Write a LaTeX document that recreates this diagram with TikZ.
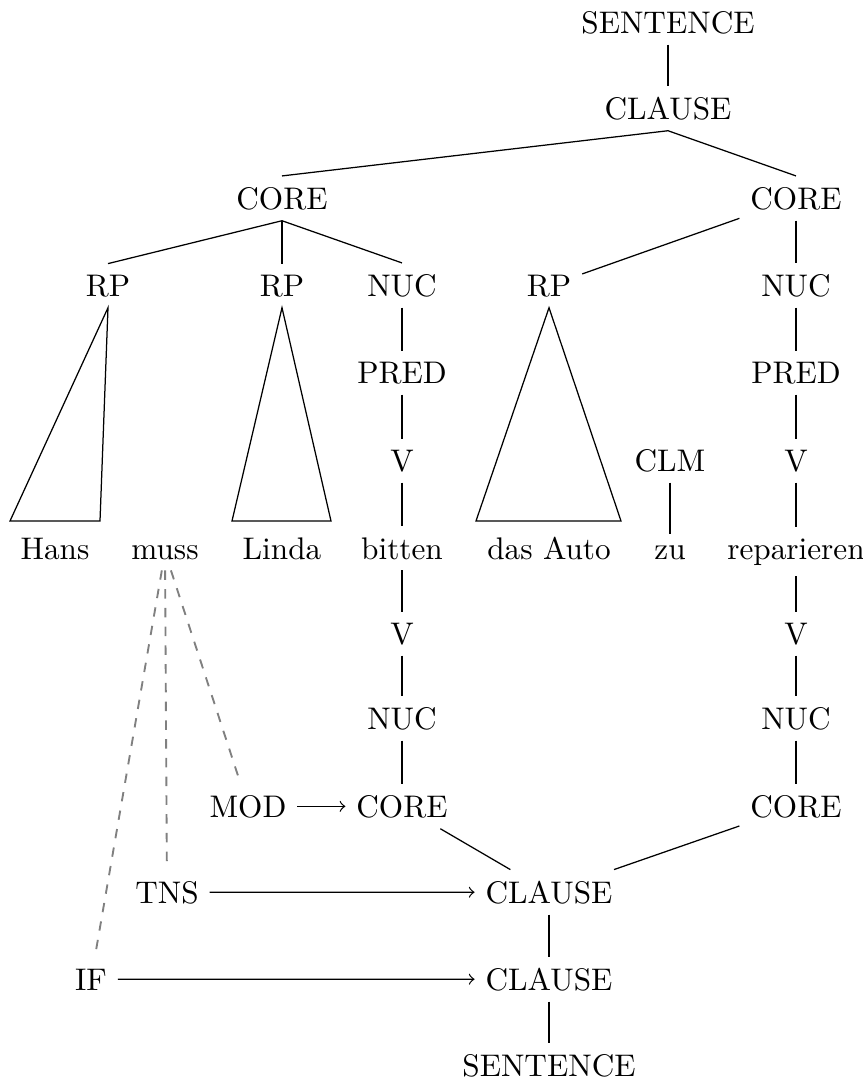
\documentclass[tikz,border=0pt]{standalone}
\usetikzlibrary{calc}
\begin{document}
\begin{tikzpicture}[x=0.32pt,y=-0.32pt,
  lbl/.style={anchor=base},
  link/.style={gray,dashed,semithick},
  arr/.style={->}]
\useasboundingbox (0,0) rectangle (863,1086);

% upper tree (nodes placed by baseline)
\node[lbl] (s1)    at (668,33)  {SENTENCE};
\node[lbl] (cl1)   at (668,119) {CLAUSE};
\node[lbl] (coreA) at (282,209) {CORE};
\node[lbl] (coreB) at (796,209) {CORE};
\node[lbl] (rp1)   at (108,296) {RP};
\node[lbl] (rp2)   at (282,296) {RP};
\node[lbl] (nucA)  at (402,296) {NUC};
\node[lbl] (rp3)   at (549,296) {RP};
\node[lbl] (nucB)  at (796,296) {NUC};
\node[lbl] (predA) at (402,383) {PRED};
\node[lbl] (predB) at (796,383) {PRED};
\node[lbl] (vA)    at (402,471) {V};
\node[lbl] (clm)   at (670,471) {CLM};
\node[lbl] (vB)    at (796,471) {V};

% words
\node[lbl] (hans)   at (55,559)  {Hans};
\node[lbl] (muss)   at (165,559) {muss};
\node[lbl] (linda)  at (282,559) {Linda};
\node[lbl] (bitten) at (402,559) {bitten};
\node[lbl] (auto)   at (549,559) {das Auto};
\node[lbl] (zu)     at (670,559) {zu};
\node[lbl] (rep)    at (796,559) {reparieren};

% lower (operator) projection
\node[lbl] (vC)    at (402,644)  {V};
\node[lbl] (vD)    at (796,644)  {V};
\node[lbl] (nucC)  at (402,729)  {NUC};
\node[lbl] (nucD)  at (796,729)  {NUC};
\node[lbl] (mod)   at (248,817)  {MOD};
\node[lbl] (coreC) at (402,817)  {CORE};
\node[lbl] (coreD) at (796,817)  {CORE};
\node[lbl] (tns)   at (167,903)  {TNS};
\node[lbl] (cl2)   at (549,903)  {CLAUSE};
\node[lbl] (if)    at (91,990)   {IF};
\node[lbl] (cl3)   at (549,990)  {CLAUSE};
\node[lbl] (s2)    at (549,1076) {SENTENCE};

% constituent projection edges
\draw (s1.south) -- (cl1.north);
\draw (cl1.south) -- (coreA.north);
\draw (cl1.south) -- (coreB.north);
\draw (coreA.south) -- (rp1.north);
\draw (coreA.south) -- (rp2.north);
\draw (coreA.south) -- (nucA.north);
\draw (coreB) -- (rp3);
\draw (coreB.south) -- (nucB.north);
\draw (nucA) -- (predA);
\draw (predA) -- (vA);
\draw (vA) -- (bitten);
\draw (nucB) -- (predB);
\draw (predB) -- (vB);
\draw (vB) -- (rep);
\draw (clm) -- (zu);

% roofs over the reference phrases
\draw (rp1.south) -- (10,521) -- (100,521) -- cycle;
\draw (rp2.south) -- (232,521) -- (331,521) -- cycle;
\draw (rp3.south) -- (476,521) -- (621,521) -- cycle;

% operator projection edges
\draw (bitten) -- (vC);
\draw (vC) -- (nucC);
\draw (nucC) -- (coreC);
\draw (coreC) -- (cl2);
\draw (rep) -- (vD);
\draw (vD) -- (nucD);
\draw (nucD) -- (coreD);
\draw (coreD) -- (cl2);
\draw (cl2) -- (cl3);
\draw (cl3) -- (s2);

% operators and their scope
\draw[link] (muss) -- (mod);
\draw[link] (muss) -- (tns);
\draw[link] (muss) -- (if);
\draw[arr] (mod) -- (coreC);
\draw[arr] (tns) -- (cl2);
\draw[arr] (if) -- (cl3);
\end{tikzpicture}
\end{document}
